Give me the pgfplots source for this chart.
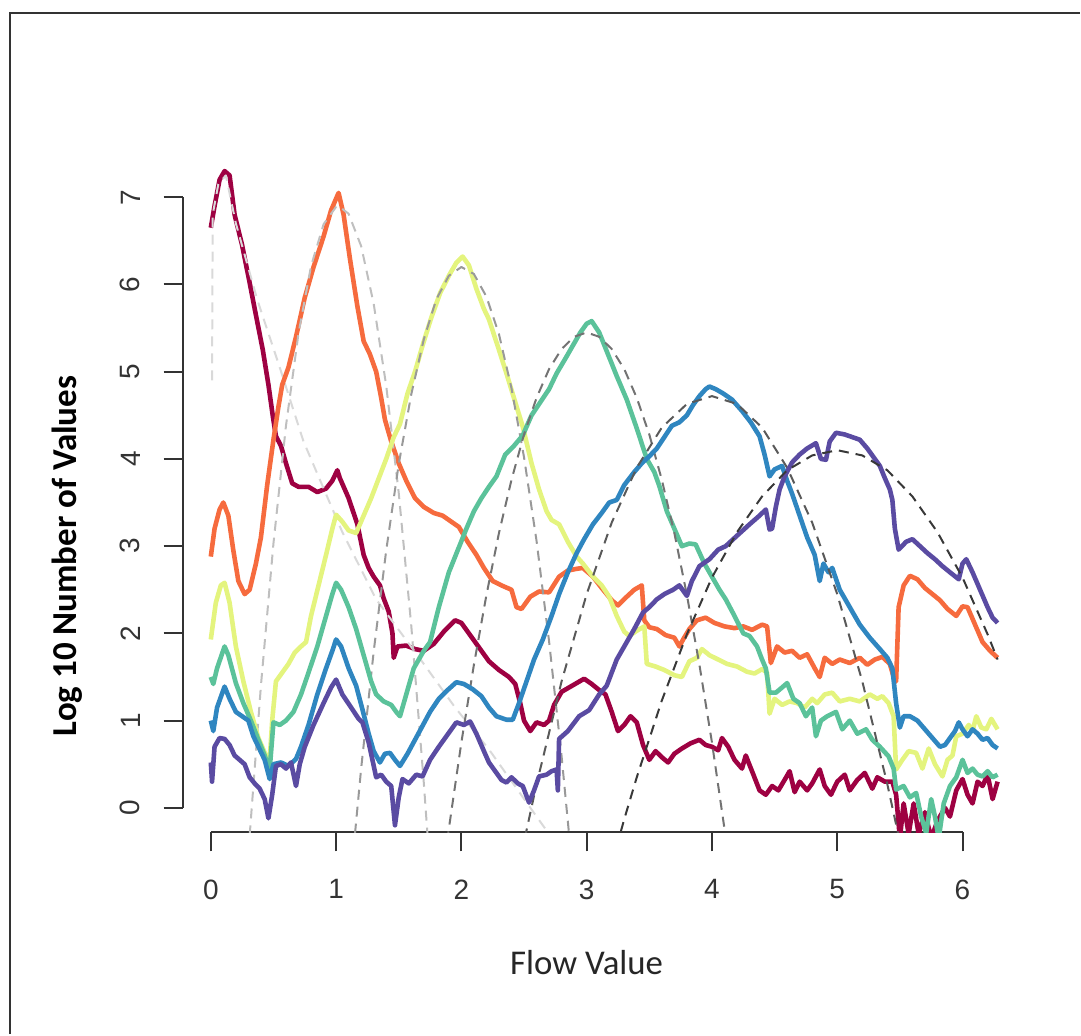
\documentclass[border=0pt]{standalone}
\usepackage{pgfplots}
\pgfplotsset{compat=1.18}
\usepackage{fontspec}
\setmainfont{Liberation Sans}
\newfontfamily\carlito{Carlito}
\definecolor{cMar}{HTML}{9E0142}
\definecolor{cOra}{HTML}{F66B3E}
\definecolor{cYel}{HTML}{E4F47E}
\definecolor{cGre}{HTML}{5BC29A}
\definecolor{cBlu}{HTML}{2F86C0}
\definecolor{cPur}{HTML}{5A4BA2}
\begin{document}
\begin{tikzpicture}
\begin{axis}[
  width=422.3pt, height=337.5pt, scale only axis,
  xmin=-0.225, xmax=6.51, ymin=-0.281, ymax=7.45,
  axis x line*=bottom, axis y line*=left,
  axis line style={draw=none},
  xtick={0,1,2,3,4,5,6}, ytick={0,1,2,3,4,5,6,7},
  tick align=outside, major tick length=9.5pt,
  tick style={line width=1pt, color=black!80},
  /pgf/number format/assume math mode=true,
  ticklabel style={font=\fontsize{14}{16}\selectfont, text=black!80},
  xticklabel style={anchor=north, inner sep=0pt},
  yticklabel style={rotate=90, anchor=south, inner sep=0pt},
  xticklabel shift=14pt, yticklabel shift=11.5pt,
  xlabel={Flow Value}, ylabel={Log 10 Number of Values},
  xlabel style={at={(axis description cs:0.4788,-0.1926)}, anchor=center, font=\carlito\fontsize{17.4}{20}\selectfont, text=black!85},
  ylabel style={at={(axis description cs:-0.1365,0.4098)}, anchor=center, font=\carlito\bfseries\fontsize{17.5}{20}\selectfont},
  clip mode=individual,
  every axis plot/.append style={line join=round},
]
% invisible bounding box = reference picture extent
\path (axis cs:-1.6826,-2.5945) rectangle (axis cs:6.9378,9.2612);
% outer frame (left and top)
\draw[line width=1pt, color=black!80] (axis cs:-1.603,-2.5945) -- (axis cs:-1.603,9.112) -- (axis cs:6.9378,9.112);
% R style axis lines
\draw[line width=1pt, color=black!80] (axis cs:0,-0.281) -- (axis cs:6,-0.281);
\draw[line width=1pt, color=black!80] (axis cs:-0.225,0) -- (axis cs:-0.225,7);

% ---------- maroon ----------
\addplot[cMar, line width=2.3pt] table {
0.00 6.65
0.03 6.9
0.07 7.2
0.11 7.3
0.15 7.25
0.19 6.8
0.25 6.45
0.31 6.02
0.36 5.65
0.415 5.25
0.46 4.85
0.495 4.49
0.52 4.26
0.56 4.15
0.60 3.95
0.65 3.72
0.70 3.68
0.78 3.68
0.85 3.62
0.92 3.66
0.97 3.75
1.01 3.87
1.03 3.78
1.10 3.55
1.17 3.25
1.22 2.9
1.26 2.75
1.30 2.65
1.35 2.55
1.38 2.4
1.42 2.25
1.45 2.0
1.46 1.72
1.49 1.85
1.56 1.86
1.63 1.82
1.70 1.8
1.78 1.88
1.86 2.02
1.95 2.15
2.00 2.12
2.07 1.98
2.15 1.82
2.22 1.68
2.30 1.58
2.38 1.5
2.43 1.42
2.47 1.2
2.50 1.0
2.55 0.88
2.60 0.98
2.66 0.95
2.70 1.0
2.74 1.18
2.80 1.33
2.86 1.38
2.92 1.43
2.98 1.48
3.04 1.42
3.10 1.35
3.15 1.3
3.20 1.1
3.25 0.88
3.30 0.95
3.35 1.05
3.40 0.98
3.45 0.72
3.50 0.55
3.55 0.65
3.60 0.58
3.65 0.52
3.70 0.62
3.76 0.68
3.83 0.74
3.90 0.78
3.95 0.72
4.00 0.7
4.05 0.66
4.08 0.8
4.13 0.7
4.18 0.55
4.24 0.45
4.27 0.6
4.32 0.42
4.38 0.2
4.43 0.15
4.48 0.25
4.53 0.2
4.58 0.32
4.62 0.42
4.66 0.18
4.70 0.3
4.76 0.2
4.80 0.28
4.86 0.44
4.90 0.25
4.95 0.15
5.00 0.3
5.06 0.38
5.10 0.2
5.16 0.32
5.22 0.4
5.28 0.22
5.32 0.35
5.38 0.3
5.44 0.3
5.47 0.15
5.50 -0.35
5.53 0.05
5.57 -0.3
5.61 0.05
5.65 -0.3
5.70 -0.05
5.75 -0.35
5.80 -0.15
5.86 0.0
5.90 -0.1
5.95 0.2
6.00 0.33
6.04 0.15
6.08 0.05
6.12 0.3
6.16 0.25
6.20 0.38
6.24 0.1
6.28 0.3
};
\addplot[black!15, line width=1pt, dash pattern=on 5pt off 3.5pt] table {
0.01 4.9
0.015 6.8
0.06 7.15
0.12 7.25
0.2 6.7
0.37 5.83
0.55 5.05
0.74 4.2
1.05 3.16
1.32 2.39
1.69 1.67
1.95 1.15
2.22 0.67
2.6 -0.1
2.75 -0.4
};

% ---------- orange ----------
\addplot[cOra, line width=2.3pt] table {
0.00 2.88
0.03 3.2
0.07 3.42
0.10 3.5
0.14 3.35
0.18 2.95
0.22 2.6
0.27 2.45
0.31 2.5
0.36 2.8
0.40 3.1
0.45 3.7
0.50 4.22
0.54 4.6
0.57 4.85
0.62 5.05
0.68 5.4
0.75 5.85
0.82 6.2
0.90 6.55
0.96 6.85
1.02 7.05
1.06 6.8
1.11 6.3
1.17 5.75
1.22 5.35
1.27 5.2
1.32 5.0
1.36 4.7
1.39 4.45
1.44 4.2
1.50 3.95
1.56 3.75
1.63 3.55
1.70 3.45
1.78 3.38
1.85 3.35
1.92 3.28
1.98 3.22
2.05 3.05
2.12 2.9
2.18 2.75
2.25 2.6
2.32 2.55
2.40 2.5
2.44 2.3
2.48 2.28
2.55 2.42
2.62 2.48
2.70 2.47
2.78 2.65
2.85 2.72
2.92 2.74
2.97 2.75
3.05 2.65
3.12 2.52
3.20 2.38
3.25 2.32
3.32 2.42
3.38 2.5
3.44 2.55
3.46 2.15
3.50 2.07
3.56 2.05
3.63 1.98
3.70 1.95
3.74 1.85
3.77 1.93
3.82 2.05
3.88 2.15
3.95 2.18
4.02 2.12
4.10 2.08
4.18 2.06
4.25 2.08
4.32 2.04
4.40 2.1
4.44 2.08
4.47 1.66
4.52 1.85
4.58 1.78
4.64 1.8
4.70 1.72
4.76 1.76
4.82 1.6
4.86 1.5
4.90 1.72
4.96 1.65
5.02 1.7
5.10 1.66
5.18 1.72
5.24 1.64
5.30 1.7
5.36 1.73
5.42 1.65
5.45 1.5
5.47 1.45
5.49 2.3
5.53 2.55
5.58 2.66
5.64 2.62
5.70 2.52
5.76 2.45
5.82 2.38
5.88 2.28
5.95 2.2
6.00 2.31
6.04 2.3
6.10 2.1
6.16 1.9
6.22 1.8
6.28 1.72
};
\addplot[black!25, line width=1pt, dash pattern=on 5pt off 3.5pt] table {
0.30 -0.51
0.40 1.40
0.50 3.03
0.60 4.38
0.70 5.44
0.80 6.21
0.90 6.69
1.00 6.89
1.02 6.90
1.10 6.81
1.20 6.44
1.30 5.78
1.40 4.84
1.50 3.61
1.60 2.09
1.70 0.29
1.75 -0.72
};

% ---------- yellow ----------
\addplot[cYel, line width=2.3pt] table {
0.00 1.93
0.04 2.35
0.08 2.55
0.11 2.58
0.15 2.35
0.20 1.85
0.26 1.45
0.32 1.1
0.38 0.8
0.44 0.6
0.47 0.55
0.49 1.0
0.52 1.45
0.57 1.55
0.62 1.65
0.67 1.78
0.72 1.85
0.76 1.9
0.80 2.2
0.86 2.55
0.92 2.9
0.97 3.2
1.00 3.36
1.05 3.28
1.10 3.18
1.16 3.15
1.22 3.35
1.28 3.55
1.32 3.7
1.40 4.0
1.46 4.25
1.51 4.4
1.57 4.75
1.63 5.0
1.69 5.3
1.76 5.62
1.83 5.9
1.90 6.1
1.96 6.25
2.01 6.32
2.06 6.22
2.12 5.95
2.18 5.72
2.22 5.6
2.30 5.25
2.36 4.98
2.43 4.65
2.49 4.37
2.56 3.95
2.62 3.65
2.68 3.4
2.72 3.3
2.78 3.25
2.85 3.05
2.92 2.88
2.97 2.8
3.05 2.65
3.12 2.55
3.18 2.42
3.24 2.2
3.30 2.02
3.34 1.97
3.40 2.03
3.46 2.08
3.48 1.65
3.55 1.62
3.62 1.58
3.70 1.52
3.76 1.5
3.82 1.68
3.88 1.72
3.92 1.82
3.98 1.75
4.05 1.7
4.12 1.65
4.20 1.62
4.28 1.56
4.34 1.54
4.40 1.59
4.44 1.55
4.46 1.08
4.50 1.25
4.56 1.18
4.62 1.22
4.68 1.2
4.74 1.15
4.80 1.25
4.84 1.2
4.90 1.3
4.96 1.32
5.02 1.22
5.10 1.25
5.18 1.22
5.26 1.3
5.32 1.25
5.36 1.28
5.41 1.2
5.45 1.05
5.47 0.44
5.52 0.55
5.57 0.65
5.63 0.63
5.68 0.45
5.73 0.68
5.78 0.5
5.84 0.36
5.88 0.55
5.92 0.6
5.95 0.82
6.00 0.85
6.05 0.95
6.08 0.88
6.11 1.05
6.15 0.92
6.19 0.9
6.23 1.02
6.28 0.9
};
\addplot[black!40, line width=1pt, dash pattern=on 5pt off 3.5pt] table {
1.10 -1.07
1.20 0.45
1.30 1.79
1.40 2.95
1.50 3.94
1.60 4.74
1.70 5.37
1.80 5.83
1.90 6.10
2.00 6.20
2.10 6.12
2.20 5.86
2.30 5.43
2.40 4.81
2.50 4.02
2.60 3.06
2.70 1.91
2.80 0.59
2.90 -0.91
};

% ---------- green ----------
\addplot[cGre, line width=2.3pt] table {
0.00 1.5
0.02 1.42
0.05 1.6
0.11 1.85
0.14 1.75
0.20 1.43
0.26 1.2
0.32 1.0
0.38 0.78
0.43 0.6
0.47 0.44
0.50 0.98
0.55 0.95
0.60 1.0
0.66 1.1
0.72 1.3
0.78 1.55
0.85 1.85
0.92 2.2
0.97 2.45
1.00 2.58
1.04 2.5
1.10 2.3
1.16 2.05
1.22 1.75
1.28 1.45
1.32 1.3
1.38 1.22
1.44 1.18
1.48 1.1
1.51 1.05
1.56 1.3
1.62 1.6
1.70 1.8
1.75 1.9
1.82 2.3
1.90 2.7
1.97 2.95
2.04 3.2
2.10 3.4
2.16 3.55
2.22 3.68
2.28 3.8
2.35 4.05
2.42 4.15
2.49 4.27
2.56 4.5
2.63 4.65
2.70 4.8
2.76 4.98
2.83 5.15
2.89 5.3
2.95 5.45
3.00 5.55
3.04 5.58
3.10 5.45
3.17 5.2
3.24 4.95
3.32 4.68
3.40 4.35
3.48 4.0
3.54 3.85
3.58 3.69
3.64 3.4
3.70 3.2
3.76 3.0
3.82 3.03
3.87 3.02
3.94 2.8
4.00 2.65
4.06 2.5
4.11 2.39
4.18 2.2
4.25 2.0
4.30 1.97
4.36 1.85
4.40 1.7
4.43 1.6
4.46 1.32
4.51 1.32
4.56 1.38
4.60 1.43
4.65 1.25
4.70 1.2
4.75 1.05
4.80 1.15
4.83 0.82
4.87 1.0
4.92 1.05
4.99 1.1
5.04 0.9
5.10 1.0
5.16 0.85
5.23 0.9
5.28 0.78
5.34 0.7
5.41 0.59
5.45 0.45
5.47 0.21
5.53 0.25
5.58 0.12
5.63 0.17
5.67 -0.1
5.71 -0.29
5.75 0.1
5.78 -0.1
5.81 -0.35
5.85 0.05
5.90 0.25
5.95 0.35
6.00 0.55
6.04 0.4
6.08 0.45
6.12 0.38
6.16 0.36
6.20 0.42
6.24 0.35
6.28 0.38
};
\addplot[black!55, line width=1pt, dash pattern=on 5pt off 3.5pt] table {
1.85 -0.77
1.90 -0.24
2.00 0.75
2.10 1.64
2.20 2.44
2.30 3.15
2.40 3.76
2.50 4.28
2.60 4.70
2.70 5.03
2.80 5.26
2.90 5.40
3.00 5.45
3.10 5.40
3.20 5.26
3.30 5.03
3.40 4.70
3.50 4.28
3.60 3.76
3.70 3.15
3.80 2.44
3.90 1.64
4.00 0.75
4.10 -0.24
4.15 -0.77
};

% ---------- blue ----------
\addplot[cBlu, line width=2.3pt] table {
0.00 1.0
0.02 0.88
0.05 1.15
0.11 1.39
0.15 1.25
0.20 1.1
0.25 1.05
0.30 1.0
0.34 0.82
0.38 0.7
0.43 0.55
0.47 0.33
0.50 0.5
0.56 0.52
0.62 0.48
0.68 0.56
0.72 0.7
0.78 0.95
0.85 1.3
0.92 1.6
0.97 1.8
1.00 1.93
1.04 1.85
1.10 1.6
1.16 1.4
1.21 1.13
1.26 0.85
1.30 0.65
1.35 0.52
1.39 0.62
1.43 0.63
1.47 0.55
1.51 0.48
1.57 0.62
1.63 0.78
1.69 0.94
1.75 1.1
1.82 1.25
1.89 1.35
1.96 1.44
2.02 1.42
2.09 1.36
2.16 1.28
2.22 1.15
2.28 1.05
2.36 1.01
2.41 1.01
2.46 1.2
2.52 1.45
2.58 1.7
2.65 1.93
2.72 2.2
2.78 2.45
2.85 2.7
2.92 2.92
2.98 3.08
3.05 3.25
3.12 3.38
3.18 3.5
3.24 3.53
3.30 3.7
3.38 3.85
3.44 3.95
3.50 4.03
3.56 4.12
3.62 4.25
3.68 4.38
3.74 4.42
3.80 4.5
3.85 4.62
3.90 4.72
3.95 4.8
3.98 4.83
4.03 4.8
4.09 4.75
4.16 4.68
4.24 4.55
4.31 4.42
4.38 4.26
4.42 4.05
4.46 3.8
4.50 3.88
4.56 3.92
4.60 3.75
4.64 3.6
4.70 3.35
4.76 3.1
4.82 2.9
4.86 2.6
4.89 2.8
4.93 2.7
4.96 2.75
5.02 2.5
5.10 2.3
5.18 2.1
5.26 1.95
5.34 1.82
5.40 1.72
5.44 1.6
5.47 1.2
5.50 0.92
5.53 1.05
5.58 1.05
5.64 1.0
5.70 0.9
5.76 0.8
5.82 0.7
5.86 0.72
5.90 0.8
5.94 0.88
5.97 0.98
6.00 0.9
6.04 0.82
6.08 0.9
6.12 0.85
6.16 0.78
6.20 0.8
6.24 0.72
6.28 0.68
};
\addplot[black!65, line width=1pt, dash pattern=on 5pt off 3.5pt] table {
2.45 -0.73
2.50 -0.39
2.60 0.27
2.80 1.45
3.00 2.45
3.20 3.27
3.40 3.90
3.60 4.36
3.80 4.63
4.00 4.72
4.20 4.63
4.40 4.36
4.60 3.90
4.80 3.27
5.00 2.45
5.20 1.45
5.40 0.27
5.50 -0.39
5.55 -0.73
};

% ---------- purple ----------
\addplot[cPur, line width=2.3pt] table {
0.00 0.52
0.01 0.3
0.03 0.7
0.07 0.8
0.11 0.79
0.15 0.72
0.19 0.6
0.23 0.55
0.27 0.5
0.31 0.35
0.35 0.28
0.39 0.22
0.43 0.1
0.46 -0.12
0.49 0.15
0.52 0.48
0.56 0.5
0.60 0.45
0.64 0.52
0.68 0.25
0.71 0.5
0.75 0.7
0.82 0.95
0.90 1.2
0.96 1.38
1.00 1.47
1.05 1.3
1.12 1.15
1.18 1.02
1.21 0.98
1.26 0.75
1.32 0.35
1.36 0.38
1.40 0.3
1.44 0.25
1.47 -0.2
1.50 0.12
1.53 0.33
1.58 0.28
1.64 0.38
1.69 0.36
1.75 0.55
1.82 0.7
1.88 0.82
1.96 0.98
2.02 0.95
2.07 0.99
2.12 0.85
2.18 0.65
2.22 0.52
2.28 0.4
2.32 0.32
2.36 0.29
2.40 0.35
2.45 0.28
2.49 0.25
2.54 0.06
2.58 0.2
2.62 0.36
2.68 0.38
2.72 0.42
2.76 0.44
2.77 0.2
2.78 0.79
2.85 0.88
2.94 1.05
3.02 1.12
3.10 1.3
3.16 1.4
3.24 1.7
3.30 1.85
3.38 2.05
3.45 2.24
3.50 2.3
3.56 2.39
3.62 2.45
3.69 2.5
3.74 2.55
3.80 2.43
3.84 2.6
3.90 2.77
3.98 2.85
4.05 2.96
4.11 3.0
4.20 3.12
4.30 3.25
4.38 3.35
4.43 3.42
4.46 3.19
4.48 3.2
4.51 3.45
4.54 3.65
4.58 3.8
4.64 3.96
4.70 4.05
4.76 4.12
4.83 4.18
4.87 4.0
4.91 3.99
4.94 4.2
4.99 4.3
5.06 4.28
5.12 4.25
5.18 4.22
5.24 4.12
5.30 4.0
5.34 3.92
5.38 3.78
5.42 3.65
5.44 3.53
5.46 3.2
5.49 2.96
5.55 3.05
5.60 3.08
5.66 3.0
5.72 2.92
5.78 2.85
5.84 2.77
5.90 2.7
5.97 2.62
6.00 2.8
6.03 2.85
6.08 2.7
6.14 2.5
6.20 2.3
6.24 2.18
6.28 2.12
};
\addplot[black!78, line width=1pt, dash pattern=on 5pt off 3.5pt] table {
3.20 -0.65
3.30 -0.13
3.40 0.35
3.60 1.23
3.80 1.99
4.00 2.64
4.20 3.16
4.40 3.57
4.60 3.87
4.80 4.04
5.00 4.10
5.20 4.04
5.40 3.87
5.60 3.57
5.80 3.16
6.00 2.64
6.20 1.99
6.28 1.70
};
\end{axis}
\end{tikzpicture}
\end{document}
